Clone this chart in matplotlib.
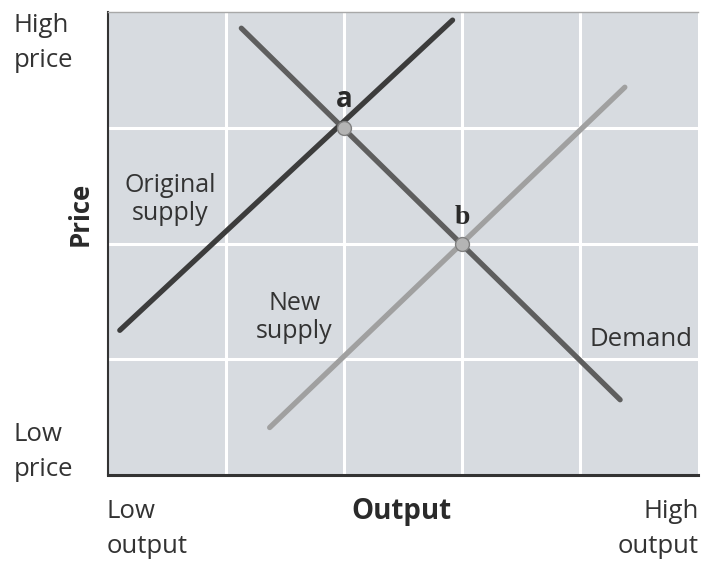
import matplotlib.pyplot as plt

# curve end points (output, price) on a 5 x 4 grid
orig_supply_x = [0.1, 2.92]
orig_supply_y = [1.25, 3.93]
new_supply_x = [1.37, 4.38]
new_supply_y = [0.41, 3.35]
demand_x = [1.13, 4.34]
demand_y = [3.86, 0.65]

# equilibrium points
eq_labels = ['a', 'b']
eq_x = [2.0, 3.0]
eq_y = [3.0, 2.0]

plt.rcParams['font.family'] = ['Open Sans', 'DejaVu Sans']

fig = plt.figure(figsize=(7.01, 5.67), dpi=100)
ax = fig.add_axes([108 / 701, 92 / 567, 590 / 701, 463 / 567])
ax.set_facecolor('#d7dbe0')
ax.set_xlim(0, 5)
ax.set_ylim(0, 4)

# white grid
for gx in [1, 2, 3, 4]:
    ax.axvline(gx, color='white', lw=2.2, zorder=1)
for gy in [1, 2, 3]:
    ax.axhline(gy, color='white', lw=2.2, zorder=1)

ax.plot(orig_supply_x, orig_supply_y, color='#3c3c3c', lw=3.8, solid_capstyle='round', zorder=3)
ax.plot(demand_x, demand_y, color='#5e5e5e', lw=3.8, solid_capstyle='round', zorder=3)
ax.plot(new_supply_x, new_supply_y, color='#a0a0a0', lw=3.8, solid_capstyle='round', zorder=3)
ax.scatter(eq_x, eq_y, s=100, color='#b4b4b4', edgecolor='#808080', linewidth=1, zorder=4)
fams = [['Open Sans', 'DejaVu Sans'], ['Liberation Serif', 'DejaVu Serif']]
for lab, x, y, fam in zip(eq_labels, eq_x, eq_y, fams):
    ax.annotate(lab, (x, y), xytext=(0, 10), textcoords='offset points', ha='center',
                va='bottom', fontsize=20, fontweight='bold', color='#2a2a2a',
                family=fam, zorder=5)

ax.text(0.53, 2.38, 'Original\nsupply', ha='center', va='center', fontsize=18,
        color='#333333', linespacing=1.15)
ax.text(1.58, 1.36, 'New\nsupply', ha='center', va='center', fontsize=18,
        color='#333333', linespacing=1.15)
ax.text(4.52, 1.17, 'Demand', ha='center', va='center', fontsize=18.5, color='#333333')

ax.spines['right'].set_visible(False)
ax.spines['top'].set_color('#a8a8a8')
ax.spines['top'].set_linewidth(1)
ax.spines['left'].set_color('#333333')
ax.spines['left'].set_linewidth(1.5)
ax.spines['bottom'].set_color('#333333')
ax.spines['bottom'].set_linewidth(2.2)
ax.set_xticks([])
ax.set_yticks([])

# axis end labels
end_kw = dict(va='center', fontsize=18.5, color='#333333', linespacing=1.5)
fig.text(14 / 701, 1 - 43 / 567, 'High\nprice', ha='left', **end_kw)
fig.text(14 / 701, 1 - 452 / 567, 'Low\nprice', ha='left', **end_kw)
fig.text(107 / 701, 1 - 529 / 567, 'Low\noutput', ha='left', **end_kw)
fig.text(699 / 701, 1 - 529 / 567, 'High\noutput', ha='right', **end_kw)
fig.text(401 / 701, 1 - 512 / 567, 'Output', ha='center', va='center', fontsize=20,
         fontweight='bold', color='#2a2a2a')
fig.text(80 / 701, 1 - 214 / 567, 'Price', ha='center', va='center', fontsize=18.5,
         fontweight='bold', color='#2a2a2a', rotation=90)

fig.savefig('out.png', dpi=100, facecolor='white')
